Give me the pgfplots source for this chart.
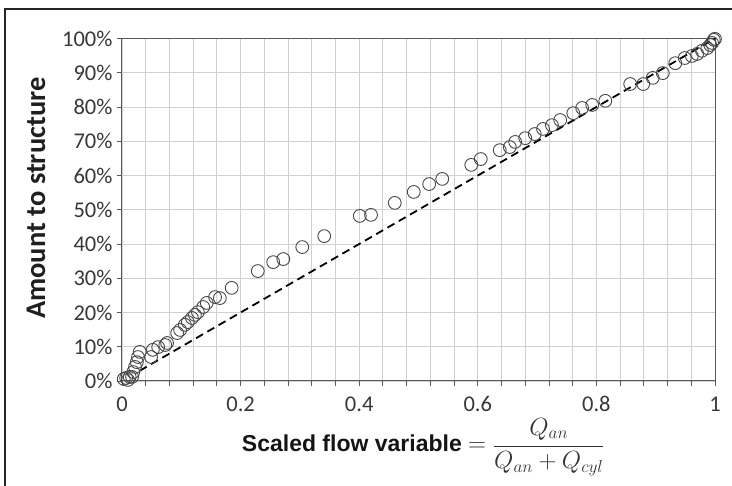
\documentclass[border=0pt]{standalone}
\usepackage{pgfplots}
\pgfplotsset{compat=1.18}
\usepackage{fontspec}
\setmainfont{Carlito}
\newfontfamily\arialfont{Liberation Sans}
\begin{document}
\begin{tikzpicture}
\useasboundingbox (-122pt,-105pt) rectangle (610pt,381pt);
\draw[line width=1.2pt, black!85] (-117pt,-105pt) -- (-117pt,372pt) -- (610pt,372pt);
\begin{axis}[
  scale only axis, width=593pt, height=342.5pt,
  xmin=0, xmax=1, ymin=0, ymax=100,
  clip=false,
  xtick={0,0.2,0.4,0.6,0.8,1}, xticklabels={0,0.2,0.4,0.6,0.8,1},
  minor x tick num=4,
  ytick={0,10,...,100},
  yticklabels={0\%,10\%,20\%,30\%,40\%,50\%,60\%,70\%,80\%,90\%,100\%},
  xtick pos=bottom, ytick pos=left,
  tick align=outside,
  major tick length=5pt, minor tick length=5pt,
  grid=both,
  major grid style={black!18, line width=0.9pt},
  minor grid style={black!18, line width=0.9pt},
  axis line style={black!65, line width=1pt},
  every tick/.style={black!65, line width=0.9pt},
  tick label style={font=\fontsize{22.5}{26}\selectfont, text=black!78},
  xticklabel style={yshift=-7pt},
  yticklabel style={xshift=-1pt},
  ylabel={\fontsize{28.5}{32}\selectfont\bfseries Amount to structure},
  ylabel style={at={(axis description cs:-0.145,0.534)}, anchor=center, text=black!88},
  xlabel={\arialfont\fontsize{23}{28}\selectfont\bfseries Scaled flow variable \textcolor{black!80}{$=\displaystyle\frac{Q_{an}}{Q_{an}+Q_{cyl}}$}},
  xlabel style={at={(axis description cs:0.508,-0.193)}, anchor=center, text=black!92},
]
\addplot[only marks, mark=o, mark size=6.4pt, color=black!72, mark options={line width=0.9pt}] coordinates {
(0.003,0.6) (0.007,0.9) (0.010,0.3) (0.013,1.2) (0.017,1.2) (0.019,2.6)
(0.022,4.1) (0.025,5.5) (0.027,7.0) (0.030,8.5) (0.049,7.0) (0.052,9.1)
(0.061,9.9) (0.073,10.5) (0.076,11.1) (0.093,14.0) (0.098,14.9) (0.106,16.4)
(0.111,17.2) (0.118,18.4) (0.123,19.3) (0.128,20.1) (0.137,21.6) (0.143,22.8)
(0.157,24.5) (0.165,24.2) (0.185,27.2) (0.229,32.1) (0.255,34.7) (0.272,35.6)
(0.304,39.1) (0.341,42.3) (0.401,48.2) (0.420,48.5) (0.460,52.0) (0.492,55.2)
(0.518,57.5) (0.540,59.0) (0.589,63.1) (0.605,64.8) (0.637,67.4) (0.654,68.3)
(0.663,69.8) (0.680,70.9) (0.696,72.1) (0.710,73.6) (0.725,74.7) (0.739,76.2)
(0.761,78.2) (0.776,79.7) (0.793,80.6) (0.815,81.8) (0.857,86.7) (0.879,86.7)
(0.895,88.5) (0.912,89.9) (0.933,92.8) (0.949,94.3) (0.961,94.9) (0.970,95.5)
(0.978,96.4) (0.987,97.2) (0.992,98.1) (0.995,98.7) (0.998,99.6) (1.000,99.9)
};
\addplot[black, line width=1.8pt, dash pattern=on 8pt off 5pt] coordinates {(0.03,3) (1,100)};
\end{axis}
\end{tikzpicture}
\end{document}
